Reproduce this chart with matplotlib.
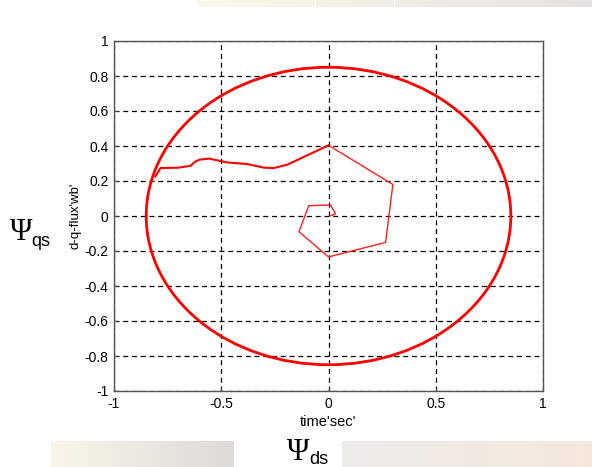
import matplotlib
matplotlib.use("Agg")
import matplotlib.pyplot as plt
from matplotlib.patches import Circle, Rectangle
import numpy as np

# ---- data ----
circle_radius = 0.85
# trajectory from origin spiralling out to the circle
traj_x = [0.005, 0.033, 0.01, -0.092, -0.138, 0.0, 0.266, 0.30, 0.0,
          -0.193, -0.255, -0.30, -0.379, -0.472, -0.558, -0.60, -0.62,
          -0.643, -0.70, -0.783, -0.807]
traj_y = [0.0, 0.011, 0.063, 0.059, -0.09, -0.234, -0.151, 0.18, 0.404,
          0.293, 0.274, 0.276, 0.297, 0.306, 0.328, 0.322, 0.312,
          0.287, 0.276, 0.274, 0.226]
xticks = [-1, -0.5, 0, 0.5, 1]
xtick_labels = ["-1", "-0.5", "0", "0.5", "1"]
yticks = [-1, -0.8, -0.6, -0.4, -0.2, 0, 0.2, 0.4, 0.6, 0.8, 1]
ytick_labels = ["-1", "-0.8", "-0.6", "-0.4", "-0.2", "0", "0.2", "0.4", "0.6", "0.8", "1"]

W, H = 592, 467
fig = plt.figure(figsize=(W / 100, H / 100), dpi=100)
fig.patch.set_facecolor("white")

# decorative faded background strips
def strip(x0, y0, x1, y1, c0, c1, n=30):
    xs = np.linspace(x0, x1, n + 1)
    for i in range(n):
        t = i / (n - 1)
        col = tuple((1 - t) * a + t * b for a, b in zip(c0, c1))
        fig.patches.append(Rectangle((xs[i] / W, 1 - y1 / H), (xs[i + 1] - xs[i]) / W,
                                     (y1 - y0) / H, transform=fig.transFigure,
                                     facecolor=col, edgecolor="none", zorder=0))

strip(197, 0, 592, 7, (0.99, 0.97, 0.92), (0.91, 0.88, 0.87))
strip(51, 441, 234, 467, (0.98, 0.96, 0.91), (0.87, 0.85, 0.84))
strip(342, 441, 592, 467, (0.93, 0.92, 0.91), (0.96, 0.91, 0.86))

ax = fig.add_axes([114 / W, 1 - 391 / H, (543 - 114) / W, (391 - 41) / H])
ax.set_facecolor("white")

ax.add_patch(Circle((0, 0), circle_radius, fill=False, edgecolor="#ff0000", linewidth=2.0, zorder=3))
ax.plot(traj_x[:9], traj_y[:9], color="#ff2020", linewidth=1.0, zorder=3)
ax.plot(traj_x[8:], traj_y[8:], color="#ff0000", linewidth=1.5, zorder=3)

ax.set_xlim(-1, 1)
ax.set_ylim(-1, 1)
ax.set_xticks(xticks)
ax.set_xticklabels(xtick_labels)
ax.set_yticks(yticks)
ax.set_yticklabels(ytick_labels)
ax.grid(True, color="black", linestyle=(0, (4, 3)), linewidth=0.9)
ax.tick_params(direction="in", length=3, labelsize=10, pad=4, colors="#444444")
for lab in ax.get_xticklabels() + ax.get_yticklabels():
    lab.set_color("black")
    lab.set_family("Liberation Sans")
for s in ax.spines.values():
    s.set_color("#555555")
    s.set_linewidth(1.0)

ax.set_xlabel("time'sec'", fontsize=10.5, family="Liberation Sans", labelpad=3)
ax.set_ylabel("d-q-flux'wb'", fontsize=9.5, family="Liberation Sans", labelpad=2)

# psi labels
fig.text(21 / W, 1 - 240 / H, "\u03a8", fontsize=22, family="Liberation Serif",
         ha="center", va="baseline")
fig.text(31 / W, 1 - 246 / H, "qs", fontsize=13, family="Liberation Sans",
         ha="left", va="baseline")
fig.text(298 / W, 1 - 460 / H, "\u03a8", fontsize=22, family="Liberation Serif",
         ha="center", va="baseline")
fig.text(309 / W, 1 - 464 / H, "ds", fontsize=13, family="Liberation Sans",
         ha="left", va="baseline")

fig.savefig("out.png", dpi=100)
